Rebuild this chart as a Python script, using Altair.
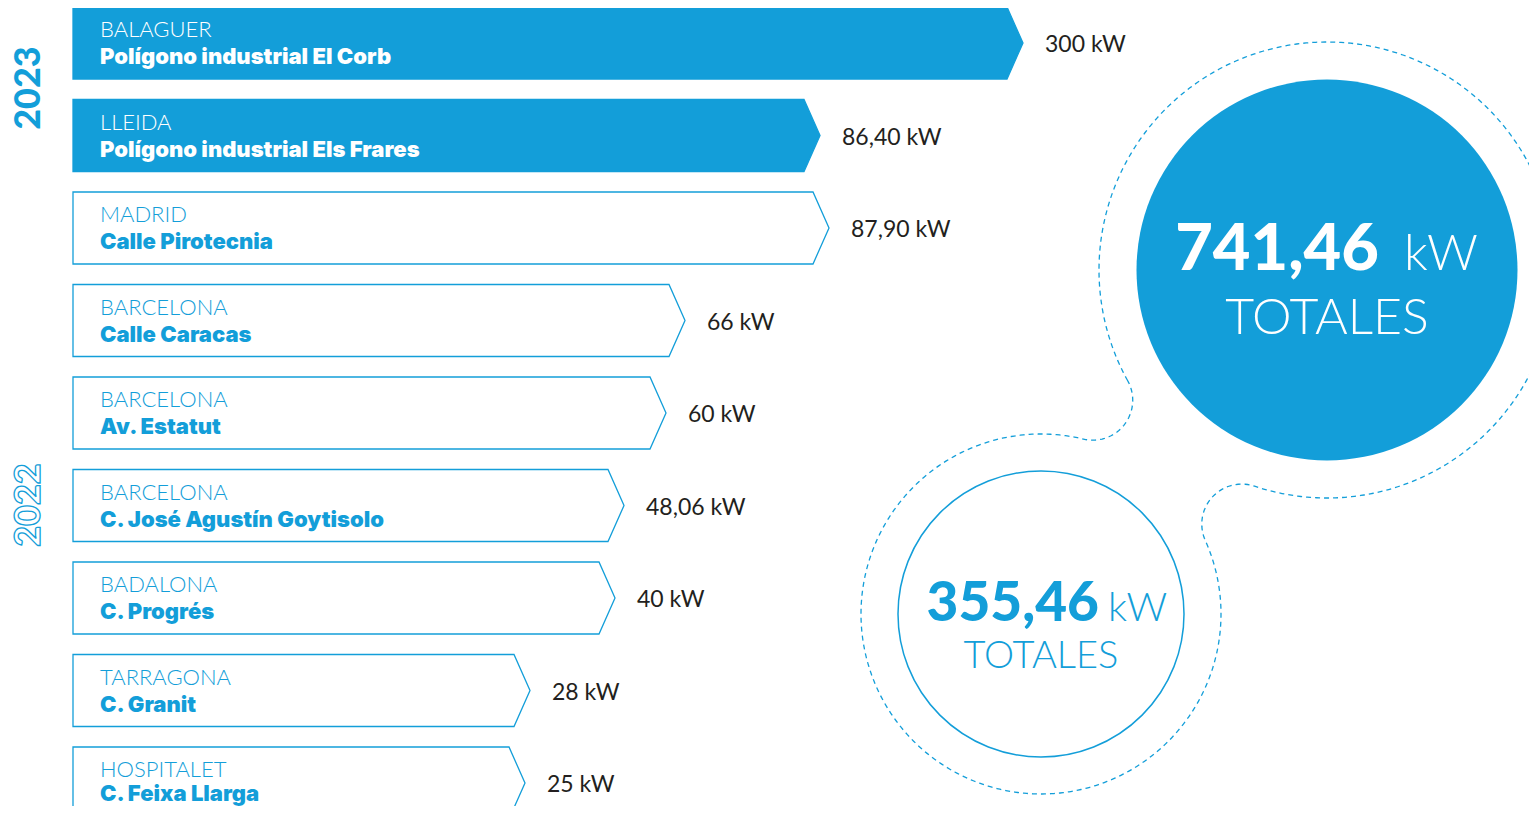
import altair as alt
import pandas as pd
import numpy as np

# ---------------- data ----------------
years = [2023, 2023, 2022, 2022, 2022, 2022, 2022, 2022, 2022]
cities = ["BALAGUER", "LLEIDA", "MADRID", "BARCELONA", "BARCELONA",
          "BARCELONA", "BADALONA", "TARRAGONA", "HOSPITALET"]
streets = ["Polígono industrial El Corb", "Polígono industrial Els Frares",
           "Calle Pirotecnia", "Calle Caracas", "Av. Estatut",
           "C. José Agustín Goytisolo", "C. Progrés", "C. Granit",
           "C. Feixa Llarga"]
power_kw = [300, 86.40, 87.90, 66, 60, 48.06, 40, 28, 25]
power_labels = ["300 kW", "86,40 kW", "87,90 kW", "66 kW", "60 kW",
                "48,06 kW", "40 kW", "28 kW", "25 kW"]
# drawn arrow lengths (the infographic is not drawn to scale)
arrow_length = [950, 747, 756, 612, 593, 551, 542, 457, 452]
total_years = ["2023", "2022"]
total_values = ["741,46", "355,46"]

# ---------------- style / layout ----------------
BLUE = "#139ed9"
DARK = "#231f20"
FONT = "Lato"
BOLD_FONT = "Inter"
W, H = 1521, 798
XS = alt.Scale(domain=[8, 8 + W], nice=False, zero=False)
YS = alt.Scale(domain=[8, 8 + H], nice=False, zero=False, reverse=True)
LEFT = 73
TOP0 = 7
PITCH = 92.5
ROW_H = 72
TIP_W = 16

def X(f="x"):
    return alt.X(f"{f}:Q", scale=XS, axis=None)

def Y(f="y"):
    return alt.Y(f"{f}:Q", scale=YS, axis=None)

# ---------------- arrows ----------------
rows = []
for i, (yr, L) in enumerate(zip(years, arrow_length)):
    top = TOP0 + i * PITCH
    bot = top + ROW_H
    mid = top + ROW_H / 2
    tip = LEFT + L
    for x, y, y2 in [(LEFT, top, bot), (tip - TIP_W, top, bot), (tip, mid, mid)]:
        rows.append({"bar": i, "year": yr, "x": x, "y": y, "y2": y2})
bars_df = pd.DataFrame(rows)

arrows = alt.Chart(bars_df).mark_area(
    orient="vertical", stroke=BLUE, strokeWidth=1.3, interpolate="linear"
).encode(
    x=X(), y=Y(), y2="y2:Q",
    detail="bar:N",
    fill=alt.condition(alt.datum.year == 2023, alt.value(BLUE), alt.value("white")),
)

lab_rows = []
for i in range(len(years)):
    top = TOP0 + i * PITCH
    lab_rows.append({
        "year": years[i], "city": cities[i], "street": streets[i],
        "label": power_labels[i], "kw": power_kw[i],
        "x": LEFT + 27, "yc": min(top + 30, 778), "ys": min(top + 57, 801),
        "xv": LEFT + arrow_length[i] + 22, "yv": top + 45,
    })
lab_df = pd.DataFrame(lab_rows)
txt_color = alt.condition(alt.datum.year == 2023, alt.value("white"), alt.value(BLUE))

city_txt = alt.Chart(lab_df).mark_text(
    align="left", baseline="alphabetic", font=FONT, fontSize=22, fontWeight=300
).encode(x=X(), y=Y("yc"), text="city:N", color=txt_color)

street_txt = alt.Chart(lab_df).mark_text(
    align="left", baseline="alphabetic", font=BOLD_FONT, fontSize=22, fontWeight=900
).encode(x=X(), y=Y("ys"), text="street:N", color=txt_color)

value_txt = alt.Chart(lab_df).mark_text(
    align="left", baseline="alphabetic", font=FONT, fontSize=23, fontWeight=400,
    color=DARK
).encode(x=X("xv"), y=Y("yv"), text="label:N")

# ---------------- year labels ----------------
yr_df = pd.DataFrame({"year": total_years, "x": [29, 29], "y": [88, 505]})
yr2023 = alt.Chart(yr_df[yr_df.year == "2023"]).mark_text(
    angle=270, align="center", baseline="middle", font=FONT, fontSize=36,
    fontWeight=900, color=BLUE
).encode(x=X(), y=Y(), text="year:N")
yr2022 = alt.Chart(yr_df[yr_df.year == "2022"]).mark_text(
    angle=270, align="center", baseline="middle", font=FONT, fontSize=36,
    fontWeight=900, fill="white", stroke=BLUE, strokeWidth=1.3
).encode(x=X(), y=Y(), text="year:N")

# ---------------- dashed outline ----------------
C1 = np.array([1327.0, 270.0]); R1 = 228.0
C2 = np.array([1041.0, 614.0]); R2 = 180.0
RF = 40.0

def fillet_center(sign):
    d = np.linalg.norm(C2 - C1)
    u = (C2 - C1) / d
    v = np.array([u[1], -u[0]])
    a1, a2 = R1 + RF, R2 + RF
    a = (d * d + a1 * a1 - a2 * a2) / (2 * d)
    h = np.sqrt(a1 * a1 - a * a)
    return C1 + a * u + sign * h * v

def tangent(C, R, F):
    return C + R * (F - C) / np.linalg.norm(F - C)

def ang(P, C):
    return np.arctan2(P[1] - C[1], P[0] - C[0])

def arc(C, R, a0, delta, n):
    t = np.linspace(0, 1, n)
    a = a0 + t * delta
    return np.column_stack([C[0] + R * np.cos(a), C[1] + R * np.sin(a)])

F_tl = fillet_center(-1)
F_br = fillet_center(1)
A = tangent(C1, R1, F_tl)
B = tangent(C1, R1, F_br)
Cp = tangent(C2, R2, F_br)
D = tangent(C2, R2, F_tl)

def short_delta(a0, a1):
    return (a1 - a0 + np.pi) % (2 * np.pi) - np.pi

segs = []
a0 = ang(A, C1); segs.append(arc(C1, R1, a0, (ang(B, C1) - a0) % (2 * np.pi), 400))
a0 = ang(B, F_br); segs.append(arc(F_br, RF, a0, short_delta(a0, ang(Cp, F_br)), 40))
a0 = ang(Cp, C2); segs.append(arc(C2, R2, a0, (ang(D, C2) - a0) % (2 * np.pi), 320))
a0 = ang(D, F_tl); segs.append(arc(F_tl, RF, a0, short_delta(a0, ang(A, F_tl)), 40))
pts = np.vstack(segs)
dash_df = pd.DataFrame({"x": pts[:, 0], "y": pts[:, 1], "i": np.arange(len(pts))})

dashed = alt.Chart(dash_df).mark_line(
    color=BLUE, strokeWidth=1.3, strokeDash=[5, 4]
).encode(x=X(), y=Y(), order="i:Q")

# ---------------- circles ----------------
circ_df = pd.DataFrame({"year": total_years, "x": [1327, 1041], "y": [270, 614]})
big_circle = alt.Chart(circ_df[circ_df.year == "2023"]).mark_point(
    shape="circle", filled=True, size=381 ** 2, color=BLUE, opacity=1
).encode(x=X(), y=Y())
small_circle = alt.Chart(circ_df[circ_df.year == "2022"]).mark_point(
    shape="circle", filled=False, size=286 ** 2, color=BLUE, strokeWidth=1.5,
    opacity=1
).encode(x=X(), y=Y())

tot_df = pd.DataFrame({
    "year": total_years, "value": total_values, "unit": ["kW", "kW"],
    "tot": ["TOTALES", "TOTALES"],
    "xn": [1379, 1099], "yn": [270, 621],
    "xu": [1404, 1108], "yu": [270, 621],
    "xt": [1327, 1041], "yt": [334, 668],
})
big_df = tot_df[tot_df.year == "2023"]
small_df = tot_df[tot_df.year == "2022"]

big_num = alt.Chart(big_df).mark_text(
    align="right", baseline="alphabetic", font=FONT, fontSize=65, fontWeight=900,
    color="white").encode(x=X("xn"), y=Y("yn"), text="value:N")
big_unit = alt.Chart(big_df).mark_text(
    align="left", baseline="alphabetic", font=FONT, fontSize=50, fontWeight=300,
    color="white").encode(x=X("xu"), y=Y("yu"), text="unit:N")
big_tot = alt.Chart(big_df).mark_text(
    align="center", baseline="alphabetic", font=FONT, fontSize=50, fontWeight=300,
    color="white").encode(x=X("xt"), y=Y("yt"), text="tot:N")

small_num = alt.Chart(small_df).mark_text(
    align="right", baseline="alphabetic", font=FONT, fontSize=55, fontWeight=900,
    color=BLUE).encode(x=X("xn"), y=Y("yn"), text="value:N")
small_unit = alt.Chart(small_df).mark_text(
    align="left", baseline="alphabetic", font=FONT, fontSize=40, fontWeight=300,
    color=BLUE).encode(x=X("xu"), y=Y("yu"), text="unit:N")
small_tot = alt.Chart(small_df).mark_text(
    align="center", baseline="alphabetic", font=FONT, fontSize=38, fontWeight=300,
    color=BLUE).encode(x=X("xt"), y=Y("yt"), text="tot:N")

chart = alt.layer(
    dashed, big_circle, small_circle, arrows, city_txt, street_txt, value_txt,
    yr2023, yr2022, big_num, big_unit, big_tot, small_num, small_unit, small_tot
).properties(
    width=W, height=H, padding=0, background="white",
    autosize=alt.AutoSizeParams(type="none")
).configure_view(stroke=None)

chart.save("out.html", embed_options={"renderer": "svg", "actions": False})
